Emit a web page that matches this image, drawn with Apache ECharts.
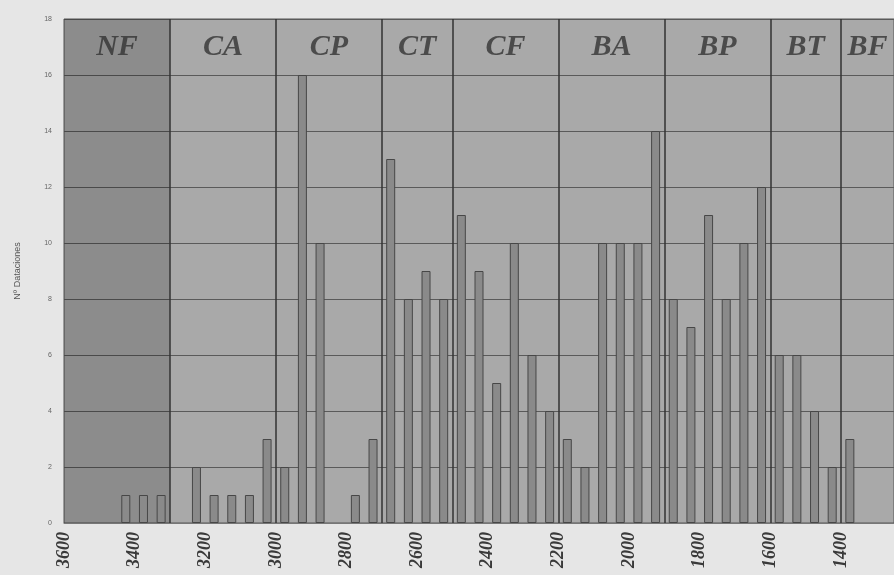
<!DOCTYPE html>
<html>
<head>
<meta charset="utf-8">
<script src="https://cdn.jsdelivr.net/npm/echarts@6/dist/echarts.min.js"></script>
<style>
html,body{margin:0;padding:0;background:#e6e6e6;}
#chart{width:894px;height:575px;}
</style>
</head>
<body>
<div id="chart"></div>
<script>
// 50-year bins (centre years)
var binYears = [3425,3375,3325,3275,3225,3175,3125,3075,3025,2975,2925,2875,2825,2775,2725,2675,2625,2575,2525,2475,2425,2375,2325,2275,2225,2175,2125,2075,2025,1975,1925,1875,1825,1775,1725,1675,1625,1575,1525,1475,1425,1375];
var counts   = [1,1,1,0,2,1,1,1,3,2,16,10,0,1,3,13,8,9,8,11,9,5,10,6,4,3,2,10,10,10,14,8,7,11,8,10,12,6,6,4,2,3];
var tickYears = [3600,3400,3200,3000,2800,2600,2400,2200,2000,1800,1600,1400];
var yTicks = [0,2,4,6,8,10,12,14,16,18];
var periodNames = ['NF','CA','CP','CT','CF','BA','BP','BT','BF'];
var periodMid = [3450,3150,2850,2600,2350,2050,1750,1500,1325];
var periodBounds = [3300,3000,2700,2500,2200,1900,1600,1400];

var barData = [];
binYears.forEach(function (y, i) { if (counts[i] > 0) barData.push([y, counts[i]]); });

var chart = echarts.init(document.getElementById('chart'));
var option = {
  backgroundColor: '#e6e6e6',
  animation: false,
  grid: {left: 64, right: 0, top: 19, bottom: 52, show: true, backgroundColor: '#a9a9a9', borderColor: '#555', borderWidth: 1},
  xAxis: {
    type: 'value', inverse: true, min: 1250, max: 3600,
    splitLine: {show: false},
    axisTick: {show: false},
    axisLine: {show: true, lineStyle: {color: '#777', width: 1}},
    axisLabel: {
      customValues: tickYears,
      formatter: function (v) { return String(v); },
      rotate: 90, margin: 9,
      fontFamily: 'Liberation Serif', fontStyle: 'italic', fontWeight: 'bold',
      fontSize: 18, color: '#3a3a3a'
    }
  },
  yAxis: {
    type: 'value', min: yTicks[0], max: yTicks[yTicks.length-1], interval: 2,
    name: 'Nº Dataciones', nameLocation: 'middle', nameGap: 42, nameRotate: 90,
    nameTextStyle: {fontSize: 9, color: '#555', fontFamily: 'Liberation Sans'},
    axisLine: {show: false}, axisTick: {show: false},
    axisLabel: {fontSize: 7, color: '#666', margin: 12},
    splitLine: {show: true, lineStyle: {color: '#5a5a5a', width: 1}}
  },
  series: [
    {
      type: 'bar',
      data: barData,
      barWidth: 9,
      itemStyle: {color: '#8a8a8a', borderColor: '#474747', borderWidth: 1},
      markArea: {
        silent: true,
        itemStyle: {color: 'rgba(0,0,0,0.17)'},
        data: [[{xAxis: 3600}, {xAxis: periodBounds[0]}]]
      },
      markLine: {
        silent: true, symbol: ['none','none'],
        label: {show: false},
        lineStyle: {color: '#333', width: 1.5, type: 'solid'},
        data: periodBounds.map(function (b) { return {xAxis: b}; })
      }
    },
    {
      type: 'scatter',
      symbolSize: 0,
      data: periodNames.map(function (n, i) { return [periodMid[i], 17, n]; }),
      label: {
        show: true, position: 'inside',
        formatter: function (p) { return p.value[2]; },
        fontFamily: 'Liberation Serif', fontStyle: 'italic', fontWeight: 'bold',
        fontSize: 30, color: '#333'
      },
      z: 5
    }
  ]
};
chart.setOption(option);
</script>
</body>
</html>
